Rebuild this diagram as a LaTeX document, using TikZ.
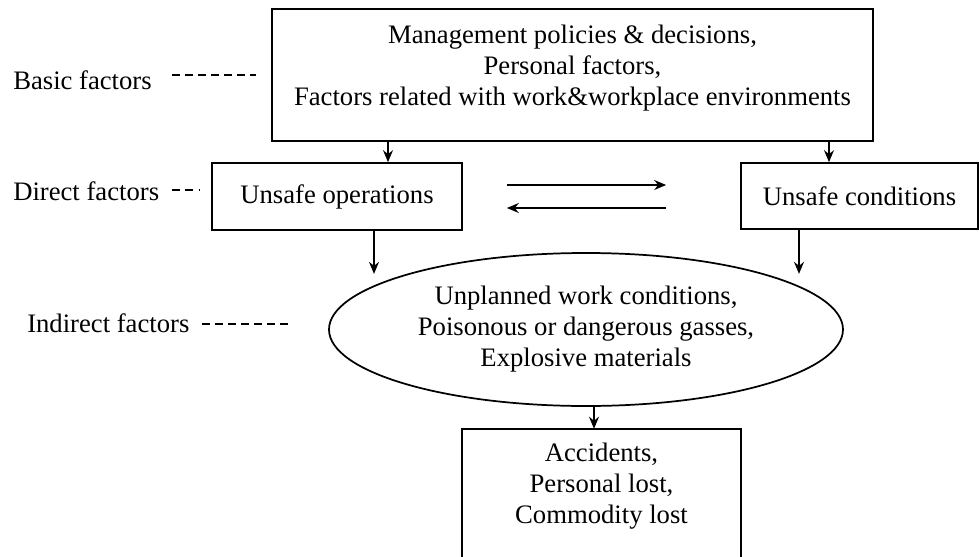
\documentclass[tikz,border=0pt]{standalone}
\usepackage{fontspec}
\setmainfont{Liberation Serif}
\usetikzlibrary{arrows.meta,shapes.geometric}

\tikzset{
  box/.style={draw, line width=1.3pt, align=center, inner sep=0pt},
  arr/.style={-{Stealth[length=9pt,width=7.5pt,inset=3pt]}, line width=1pt},
  dashline/.style={line width=0.8pt, dash pattern=on 6pt off 3.8pt},
  lbl/.style={anchor=west, inner sep=0pt}
}

\begin{document}
\begin{tikzpicture}[x=0.75pt,y=-0.75pt,font=\fontsize{20}{23.25}\selectfont]
  \useasboundingbox (0,0) rectangle (979,557);
  % the factor boxes
  \node[box, minimum width=450.75pt, minimum height=99pt] (basic) at (572.5,75) {};
  \node[align=center, inner sep=0pt] (basictxt) at (572.5,68)
    {Management policies \& decisions,\\ Personal factors,\\ Factors related with work\&workplace environments};
  \node[box, minimum width=187.5pt, minimum height=50.25pt] (ops) at (337,196.5) {Unsafe operations};
  \node[box, minimum width=177.75pt, minimum height=49.5pt] (cond) at (859.5,196) {Unsafe conditions};
  \node[box, ellipse, minimum width=385.5pt, minimum height=114.75pt] (indirect) at (586,329.5)
    {Unplanned work conditions,\\ Poisonous or dangerous gasses,\\ Explosive materials};
  \node[align=center, inner sep=0pt, minimum width=209.25pt, minimum height=85.5pt] (loss) at (601.5,486)
    {Accidents,\\ Personal lost,\\ Commodity lost};
  \draw[line width=1.3pt] (loss.west |- 0,557) -- (loss.north west) -- (loss.north east) -- (loss.east |- 0,557);

  % level names on the left
  \node[lbl] (basiclbl) at (13,80) {Basic factors};
  \node[lbl] (directlbl) at (13,191) {Direct factors};
  \node[lbl] (indirectlbl) at (27,323) {Indirect factors};
  \draw[dashline, shorten <=15pt, shorten >=11.25pt] (basiclbl.east |- 0,75) -- (basic.west |- 0,75);
  \draw[dashline, shorten <=9.75pt, shorten >=9pt] (directlbl.east |- 0,190) -- (ops.west |- 0,190);
  \draw[dashline, shorten <=9pt, shorten >=27pt] (indirectlbl.east |- 0,324) -- (indirect.west |- 0,324);

  % arrows
  \draw[arr] (basic.south -| 388,0) -- (ops.north -| 388,0);
  \draw[arr] (basic.south -| 829,0) -- (cond.north -| 829,0);
  \draw[arr, shorten <=33pt, shorten >=55.5pt] (ops.east |- 0,185) -- (cond.west |- 0,185);
  \draw[arr, shorten <=55.5pt, shorten >=33pt] (cond.west |- 0,208) -- (ops.east |- 0,208);
  \draw[arr] (ops.south -| 374,0) -- ++(0,43);
  \draw[arr] (cond.south -| 799,0) -- ++(0,44);
  \draw[arr] (indirect.south -| 594,0) -- (loss.north -| 594,0);
\end{tikzpicture}
\end{document}
